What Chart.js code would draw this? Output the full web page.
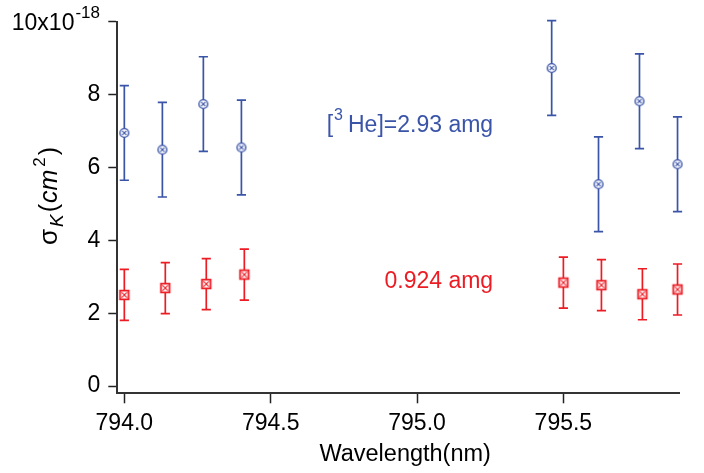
<!DOCTYPE html>
<html><head><meta charset="utf-8">
<script src="https://cdn.jsdelivr.net/npm/chart.js@4.4.0/dist/chart.umd.min.js"></script>
<style>html,body{margin:0;padding:0;background:#fff;}#wrap{width:704px;height:473px;position:relative;}canvas{display:block;}</style>
</head><body><div id="wrap"><canvas id="c" width="704" height="473" style="width:704px;height:473px"></canvas></div>
<script>
// ---- data ----
const wavelengthsHigh = [794.00, 794.13, 794.27, 794.40, 795.46, 795.62, 795.76, 795.89];
const sigmaHigh       = [6.95, 6.49, 7.74, 6.55, 8.73, 5.54, 7.82, 6.09];
const errHigh         = [1.30, 1.30, 1.30, 1.30, 1.30, 1.30, 1.30, 1.30];
const wavelengthsLow  = [794.00, 794.14, 794.28, 794.41, 795.50, 795.63, 795.77, 795.89];
const sigmaLow        = [2.50, 2.69, 2.80, 3.06, 2.84, 2.77, 2.52, 2.65];
const errLow          = [0.70, 0.70, 0.70, 0.70, 0.70, 0.70, 0.70, 0.70];
const xTicks = [794.0, 794.5, 795.0, 795.5];
const yTicks = [0, 2, 4, 6, 8, 10];
const labelHigh = {sup: '3', pre: '[', post: 'He]=2.93 amg'};
const labelLow = '0.924 amg';

const BLUE = 'rgb(58,84,168)';
const RED = 'rgb(236,28,36)';
const FONT = "'Liberation Sans', Arial, Helvetica, sans-serif";

function makeMarker(kind, color) {
  const s = 16, c = document.createElement('canvas');
  c.width = s; c.height = s;
  const g = c.getContext('2d');
  g.strokeStyle = color; g.lineWidth = 1.4; g.fillStyle = '#fff';
  const m = s / 2;
  if (kind === 'circle') {
    g.beginPath(); g.arc(m, m, 4.4, 0, Math.PI * 2); g.fill(); g.stroke();
    g.lineWidth = 1.1;
    g.beginPath(); g.moveTo(m - 2.2, m - 2.2); g.lineTo(m + 2.2, m + 2.2);
    g.moveTo(m + 2.2, m - 2.2); g.lineTo(m - 2.2, m + 2.2); g.stroke();
  } else {
    g.lineWidth = 1.8;
    g.beginPath(); g.rect(m - 4.3, m - 4.3, 8.6, 8.6); g.fill(); g.stroke();
    g.lineWidth = 1.1;
    g.beginPath(); g.moveTo(m - 2.6, m - 2.6); g.lineTo(m + 2.6, m + 2.6);
    g.moveTo(m + 2.6, m - 2.6); g.lineTo(m - 2.6, m + 2.6); g.stroke();
  }
  return c;
}

const errorBars = {
  id: 'errorBars',
  beforeDatasetsDraw(chart) {
    const ctx = chart.ctx, xs = chart.scales.x, ys = chart.scales.y;
    chart.data.datasets.forEach(ds => {
      ctx.save();
      ctx.strokeStyle = ds.borderColor; ctx.lineWidth = 1.7;
      ds.data.forEach((p, i) => {
        const e = ds.errors[i];
        const x = xs.getPixelForValue(p.x);
        const y1 = ys.getPixelForValue(p.y + e), y2 = ys.getPixelForValue(p.y - e);
        ctx.beginPath();
        ctx.moveTo(x, y1); ctx.lineTo(x, y2);
        ctx.moveTo(x - 4.6, y1); ctx.lineTo(x + 4.6, y1);
        ctx.moveTo(x - 4.6, y2); ctx.lineTo(x + 4.6, y2);
        ctx.stroke();
      });
      ctx.restore();
    });
  }
};

function drawRich(ctx, segs, x, y, align) {
  let w = 0;
  segs.forEach(s => { ctx.font = s.font; s.w = ctx.measureText(s.t).width; w += s.w + (s.gap || 0); });
  let cx = align === 'right' ? x - w : (align === 'center' ? x - w / 2 : x);
  ctx.textAlign = 'left';
  segs.forEach(s => {
    ctx.font = s.font; ctx.fillStyle = s.color;
    ctx.fillText(s.t, cx, y + (s.dy || 0));
    cx += s.w + (s.gap || 0);
  });
}

const textPlugin = {
  id: 'texts',
  afterDraw(chart) {
    const ctx = chart.ctx, xs = chart.scales.x, ys = chart.scales.y, ca = chart.chartArea;
    ctx.save();
    ctx.textBaseline = 'alphabetic';
    // top tick label 10x10^-18
    const y10 = ys.getPixelForValue(10);
    drawRich(ctx, [
      {t: '10x10', font: '23px ' + FONT, color: '#000', gap: 1},
      {t: '-18', font: '17px ' + FONT, dy: -12, color: '#000'}
    ], 100, y10 + 8, 'right');
    // x title
    drawRich(ctx, [{t: 'Wavelength(nm)', font: '23.5px ' + FONT, color: '#000'}], (ca.left + ca.right) / 2 + 7, 461, 'center');
    // y title rotated
    ctx.save();
    ctx.translate(57, 196);
    ctx.rotate(-Math.PI / 2);
    drawRich(ctx, [
      {t: 'σ', font: '26px ' + FONT, color: '#000', gap: 2},
      {t: 'K', font: 'italic 19px ' + FONT, dy: 6, color: '#000', gap: 2},
      {t: '(', font: '25px ' + FONT, color: '#000', gap: 1},
      {t: 'cm', font: 'italic 25px ' + FONT, color: '#000', gap: 3},
      {t: '2', font: '17px ' + FONT, dy: -12, color: '#000', gap: 2},
      {t: ')', font: '25px ' + FONT, color: '#000'}
    ], 0, 0, 'center');
    ctx.restore();
    // annotations
    const ax = xs.getPixelForValue(795.26);
    drawRich(ctx, [
      {t: labelHigh.pre, font: '23px ' + FONT, color: BLUE, gap: 1},
      {t: labelHigh.sup, font: '16px ' + FONT, dy: -12, color: BLUE, gap: 5},
      {t: labelHigh.post, font: '23px ' + FONT, color: BLUE}
    ], ax, ys.getPixelForValue(6.97), 'right');
    drawRich(ctx, [{t: labelLow, font: '23px ' + FONT, color: RED}], ax, ys.getPixelForValue(2.69), 'right');
    ctx.restore();
  }
};

const toPts = (xs, ys) => xs.map((x, i) => ({x: x, y: ys[i]}));

new Chart(document.getElementById('c'), {
  type: 'scatter',
  data: {
    datasets: [
      {label: 'high', data: toPts(wavelengthsHigh, sigmaHigh), errors: errHigh,
       borderColor: BLUE, backgroundColor: BLUE, pointStyle: makeMarker('circle', BLUE), clip: false},
      {label: 'low', data: toPts(wavelengthsLow, sigmaLow), errors: errLow,
       borderColor: RED, backgroundColor: RED, pointStyle: makeMarker('square', RED), clip: false}
    ]
  },
  options: {
    responsive: false, animation: false, devicePixelRatio: 1,
    layout: {padding: {top: 17.5, right: 25, left: 0, bottom: 0}},
    plugins: {legend: {display: false}, tooltip: {enabled: false}},
    events: [],
    scales: {
      x: {
        type: 'linear', min: 793.976, max: 795.895,
        afterBuildTicks: s => { s.ticks = xTicks.map(v => ({value: v})); },
        afterFit: s => { s.height = 79.7; },
        grid: {display: true, drawOnChartArea: false, drawTicks: true, tickLength: 10, tickWidth: 1.5, tickColor: '#222'},
        border: {display: true, color: '#333', width: 2},
        ticks: {color: '#000', font: {family: FONT, size: 23}, padding: 7, maxRotation: 0, autoSkip: false,
                callback: v => v.toFixed(1)}
      },
      y: {
        type: 'linear', min: -0.2, max: 10,
        afterBuildTicks: s => { s.ticks = yTicks.map(v => ({value: v})); },
        afterFit: s => { s.width = 117.3; },
        grid: {display: true, drawOnChartArea: false, drawTicks: true, tickLength: 9, tickWidth: 1.5, tickColor: '#222'},
        border: {display: true, color: '#333', width: 2},
        ticks: {color: '#000', font: {family: FONT, size: 23}, padding: 8, autoSkip: false,
                callback: v => (v === 10 ? '' : String(v))}
      }
    }
  },
  plugins: [errorBars, textPlugin]
});
</script>
</body></html>
